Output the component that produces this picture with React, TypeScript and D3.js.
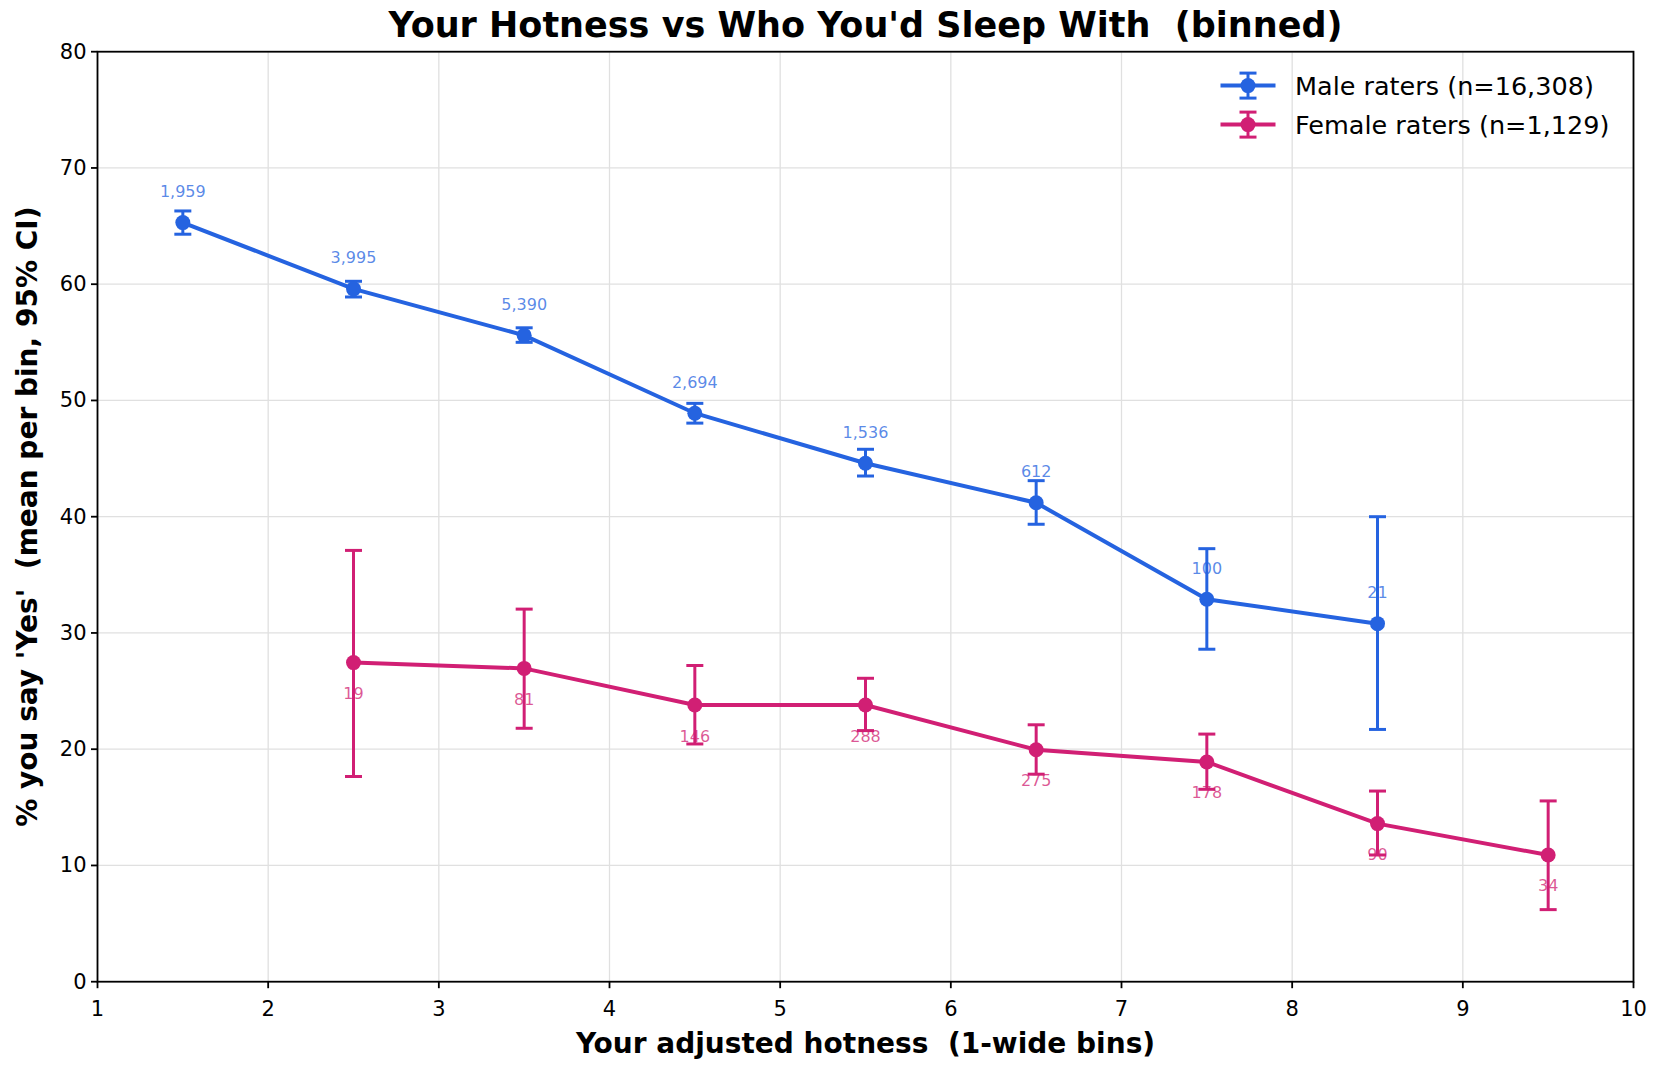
import React from "react";
import * as d3 from "d3";

const maleX = [1.5, 2.5, 3.5, 4.5, 5.5, 6.5, 7.5, 8.5];
const maleMean = [65.3, 59.6, 55.6, 48.9, 44.6, 41.2, 32.9, 30.8];
const maleLo = [64.3, 58.9, 55.0, 48.05, 43.5, 39.35, 28.6, 21.7];
const maleHi = [66.3, 60.25, 56.25, 49.75, 45.8, 43.1, 37.25, 40.0];
const maleN = ["1,959", "3,995", "5,390", "2,694", "1,536", "612", "100", "21"];

const femaleX = [2.5, 3.5, 4.5, 5.5, 6.5, 7.5, 8.5, 9.5];
const femaleMean = [27.45, 26.95, 23.8, 23.8, 19.95, 18.9, 13.6, 10.9];
const femaleLo = [17.65, 21.8, 20.45, 21.6, 17.85, 16.55, 10.9, 6.2];
const femaleHi = [37.1, 32.05, 27.2, 26.1, 22.1, 21.3, 16.4, 15.55];
const femaleN = ["19", "81", "146", "288", "275", "178", "90", "34"];

const xTicks = [1, 2, 3, 4, 5, 6, 7, 8, 9, 10];
const yTicks = [0, 10, 20, 30, 40, 50, 60, 70, 80];

const title = "Your Hotness vs Who You'd Sleep With  (binned)";
const xLabel = "Your adjusted hotness  (1-wide bins)";
const yLabel = "% you say 'Yes'  (mean per bin, 95% CI)";
const legendLabels = ["Male raters (n=16,308)", "Female raters (n=1,129)"];

const MALE = "#2563e0";
const FEMALE = "#d11f74";

const W = 1657;
const H = 1066;
const M = { left: 97.5, right: 1633.5, top: 51.7, bottom: 981.7 };
const FONT = "DejaVu Sans, sans-serif";

export default function App() {
  const x = d3.scaleLinear().domain([1, 10]).range([M.left, M.right]);
  const y = d3.scaleLinear().domain([0, 80]).range([M.bottom, M.top]);
  const line = d3
    .line<[number, number]>()
    .x((d) => x(d[0]))
    .y((d) => y(d[1]));

  const series = [
    { xs: maleX, mean: maleMean, lo: maleLo, hi: maleHi, n: maleN, color: MALE, above: true },
    { xs: femaleX, mean: femaleMean, lo: femaleLo, hi: femaleHi, n: femaleN, color: FEMALE, above: false },
  ];

  const cap = 8.5;
  const pre = { whiteSpace: "pre" } as React.CSSProperties;

  return (
    <svg
      width={W}
      height={H}
      style={{ position: "absolute", left: 0, top: 0, background: "#fff" }}
      fontFamily={FONT}
    >
      <rect x={0} y={0} width={W} height={H} fill="#fff" />
      {xTicks.map((t) => (
        <line key={"gx" + t} x1={x(t)} x2={x(t)} y1={M.top} y2={M.bottom} stroke="#e0e0e0" strokeWidth={1.3} />
      ))}
      {yTicks.map((t) => (
        <line key={"gy" + t} x1={M.left} x2={M.right} y1={y(t)} y2={y(t)} stroke="#e0e0e0" strokeWidth={1.3} />
      ))}

      {series.map((s, si) => (
        <g key={"s" + si}>
          {s.xs.map((xv, i) => (
            <g key={"e" + i} stroke={s.color} strokeWidth={3}>
              <line x1={x(xv)} x2={x(xv)} y1={y(s.lo[i])} y2={y(s.hi[i])} />
              <line x1={x(xv) - cap} x2={x(xv) + cap} y1={y(s.lo[i])} y2={y(s.lo[i])} />
              <line x1={x(xv) - cap} x2={x(xv) + cap} y1={y(s.hi[i])} y2={y(s.hi[i])} />
            </g>
          ))}
          <path
            d={line(s.xs.map((xv, i) => [xv, s.mean[i]] as [number, number])) || ""}
            fill="none"
            stroke={s.color}
            strokeWidth={4}
          />
          {s.xs.map((xv, i) => (
            <circle key={"c" + i} cx={x(xv)} cy={y(s.mean[i])} r={7.5} fill={s.color} />
          ))}
          {s.xs.map((xv, i) => (
            <text
              key={"t" + i}
              x={x(xv)}
              y={y(s.mean[i]) + (s.above ? -31 : 31)}
              textAnchor="middle"
              dominantBaseline="central"
              fontSize={16}
              fill={s.color}
              fillOpacity={0.75}
            >
              {s.n[i]}
            </text>
          ))}
        </g>
      ))}

      <rect
        x={M.left}
        y={M.top}
        width={M.right - M.left}
        height={M.bottom - M.top}
        fill="none"
        stroke="#000"
        strokeWidth={1.8}
      />

      {xTicks.map((t) => (
        <g key={"xt" + t}>
          <line x1={x(t)} x2={x(t)} y1={M.bottom} y2={M.bottom + 6.5} stroke="#000" strokeWidth={1.8} />
          <text x={x(t)} y={M.bottom + 27} textAnchor="middle" dominantBaseline="central" fontSize={21}>
            {t}
          </text>
        </g>
      ))}
      {yTicks.map((t) => (
        <g key={"yt" + t}>
          <line x1={M.left - 6.5} x2={M.left} y1={y(t)} y2={y(t)} stroke="#000" strokeWidth={1.8} />
          <text x={M.left - 11} y={y(t)} textAnchor="end" dominantBaseline="central" fontSize={21}>
            {t}
          </text>
        </g>
      ))}

      <text x={(M.left + M.right) / 2} y={37} textAnchor="middle" fontSize={35} fontWeight="bold" style={pre}>
        {title}
      </text>
      <text x={(M.left + M.right) / 2} y={1053} textAnchor="middle" fontSize={28} fontWeight="bold" style={pre}>
        {xLabel}
      </text>
      <text
        transform={`translate(37, ${(M.top + M.bottom) / 2}) rotate(-90)`}
        textAnchor="middle"
        fontSize={28}
        fontWeight="bold"
        style={pre}
      >
        {yLabel}
      </text>

      {legendLabels.map((lab, i) => {
        const ly = 85.6 + i * 39;
        const c = i === 0 ? MALE : FEMALE;
        const lx = 1248;
        return (
          <g key={"lg" + i}>
            <line x1={lx - 27.5} x2={lx + 27.5} y1={ly} y2={ly} stroke={c} strokeWidth={4} />
            <g stroke={c} strokeWidth={3}>
              <line x1={lx} x2={lx} y1={ly - 12.5} y2={ly + 12.5} />
              <line x1={lx - cap} x2={lx + cap} y1={ly - 12.5} y2={ly - 12.5} />
              <line x1={lx - cap} x2={lx + cap} y1={ly + 12.5} y2={ly + 12.5} />
            </g>
            <circle cx={lx} cy={ly} r={7.5} fill={c} />
            <text x={1295} y={ly} dominantBaseline="central" fontSize={25.5}>
              {lab}
            </text>
          </g>
        );
      })}
    </svg>
  );
}
